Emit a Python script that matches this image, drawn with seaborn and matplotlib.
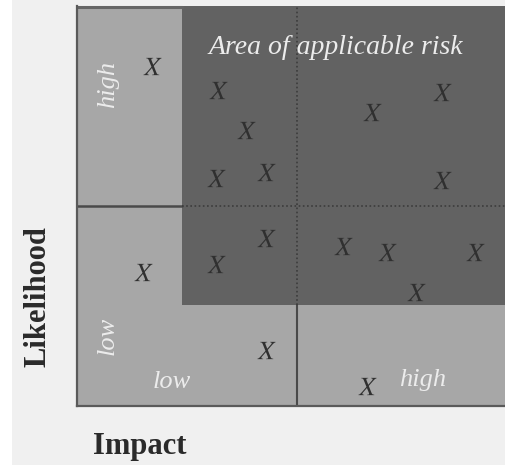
import matplotlib
matplotlib.use("Agg")
import matplotlib.pyplot as plt
import seaborn as sns
import pandas as pd
from matplotlib.patches import Rectangle

# risk items (impact, likelihood)
impact = [0.34, 0.64, 0.77, 0.63, 0.86, 1.34, 1.66, 1.66,
          0.86, 0.63, 0.30, 1.21, 1.41, 1.81, 1.54, 0.86, 1.32]
likelihood = [1.70, 1.58, 1.38, 1.14, 1.17, 1.47, 1.57, 1.13,
              0.84, 0.71, 0.67, 0.80, 0.77, 0.77, 0.57, 0.28, 0.10]

df = pd.DataFrame({"impact": impact, "likelihood": likelihood})

sns.set_theme(style="white")
plt.rcParams["font.family"] = ["Liberation Serif", "DejaVu Serif"]
plt.rcParams["mathtext.fontset"] = "stix"

fig = plt.figure(figsize=(5.06, 4.65), dpi=100)
fig.patch.set_facecolor("#f0f0f0")
# white strip on the far left
fig.patches.append(Rectangle((0, 0), 12 / 506, 1, transform=fig.transFigure,
                             facecolor="white", edgecolor="none", zorder=0))

ax = fig.add_axes([77 / 506, 59 / 465, 429 / 506, 400 / 465])
ax.set_xlim(0, 1.95)
ax.set_ylim(0, 2.0)
ax.set_facecolor("#a7a7a7")

# area of applicable risk
ax.add_patch(Rectangle((0.477, 0.505), 1.6, 1.6, facecolor="#626262",
                       edgecolor="none", zorder=1))

line_c = "#4a4a4a"
ax.plot([0, 0.477], [1, 1], color=line_c, lw=1.8, zorder=2)
ax.plot([0.477, 1.95], [1, 1], color="#3c3c3c", lw=1.2, ls=(0, (1, 1.5)), zorder=2)
ax.plot([1, 1], [0, 0.505], color=line_c, lw=1.5, zorder=2)
ax.plot([1, 1], [0.505, 2.0], color="#3c3c3c", lw=1.2, ls=(0, (1, 1.5)), zorder=2)
ax.plot([0, 0.477], [1.995, 1.995], color="#666666", lw=2.2, zorder=2,
        clip_on=False)

sns.scatterplot(data=df, x="impact", y="likelihood", marker=r"$X$", s=170,
                color="#303030", linewidth=0, ax=ax, zorder=3)

lab_c = "#ececec"
ax.text(1.175, 1.795, "Area of applicable risk", color=lab_c, fontsize=20,
        style="italic", ha="center", va="center", zorder=4)
ax.text(0.14, 1.61, "high", color=lab_c, fontsize=19, style="italic",
        rotation=90, ha="center", va="center", zorder=4)
ax.text(0.14, 0.35, "low", color=lab_c, fontsize=19, style="italic",
        rotation=90, ha="center", va="center", zorder=4)
ax.text(0.43, 0.12, "low", color=lab_c, fontsize=19, style="italic",
        ha="center", va="center", zorder=4)
ax.text(1.573, 0.13, "high", color=lab_c, fontsize=19, style="italic",
        ha="center", va="center", zorder=4)

ax.set_xticks([])
ax.set_yticks([])
ax.set_xlabel("")
ax.set_ylabel("")
for side in ["top", "right"]:
    ax.spines[side].set_visible(False)
for side in ["left", "bottom"]:
    ax.spines[side].set_color("#5a5a5a")
    ax.spines[side].set_linewidth(1.6)

fig.text(140 / 506, 1 - 446 / 465, "Impact", fontsize=22, fontweight="bold",
         color="#2a2a2a", ha="center", va="center")
fig.text(38 / 506, 1 - 297 / 465, "Likelihood", fontsize=22, fontweight="bold",
         color="#2a2a2a", rotation=90, ha="center", va="center")

fig.savefig("out.png", dpi=100, facecolor=fig.get_facecolor())
